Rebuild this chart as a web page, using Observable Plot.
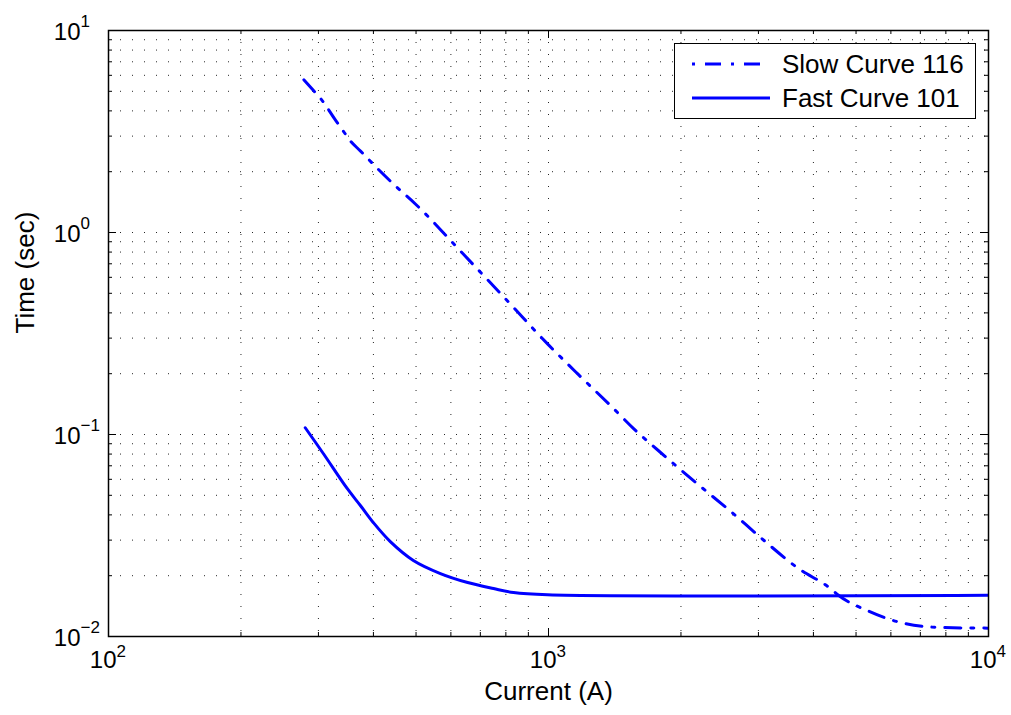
<!DOCTYPE html>
<html><head><meta charset="utf-8">
<script src="https://cdn.jsdelivr.net/npm/d3@7"></script>
<script src="https://cdn.jsdelivr.net/npm/@observablehq/plot@0.6"></script>
<style>body{margin:0;background:#fff}</style>
</head><body><div id="chart"></div>
<script>
// Series data
const slowCurrent = [278, 291, 306, 328, 342, 355, 374, 408, 449, 499, 641, 807, 995, 1164, 1384, 1561, 1845, 2158, 2630, 3034, 3700, 4375, 4560, 5305, 6310, 7780, 10000];
const slowTime    = [5.7, 5.1, 4.5, 3.6, 3.17, 2.83, 2.53, 2.08, 1.70, 1.38, 0.78, 0.458, 0.281, 0.200, 0.139, 0.107, 0.0776, 0.058, 0.0406, 0.0309, 0.0217, 0.01727, 0.0160, 0.01344, 0.01173, 0.01108, 0.0110];
const fastCurrent = [280, 308, 349, 374, 400, 437, 493, 568, 655, 750, 833, 995, 10000];
const fastTime    = [0.108, 0.0803, 0.0539, 0.0444, 0.0366, 0.0295, 0.0238, 0.0205, 0.0185, 0.01727, 0.0165, 0.0161, 0.0160];
const seriesNames = ["Slow Curve 116", "Fast Curve 101"];

// Axis ticks and labels
const xMajor = [100, 1000, 10000];
const xMinor = [200, 300, 400, 500, 600, 700, 800, 900, 2000, 3000, 4000, 5000, 6000, 7000, 8000, 9000];
const xTickBase = ["10", "10", "10"];
const xTickExp = ["2", "3", "4"];
const yMajor = [0.01, 0.1, 1, 10];
const yMinor = [0.02, 0.03, 0.04, 0.05, 0.06, 0.07, 0.08, 0.09, 0.2, 0.3, 0.4, 0.5, 0.6, 0.7, 0.8, 0.9, 2, 3, 4, 5, 6, 7, 8, 9];
const yTickBase = ["10", "10", "10", "10"];
const yTickExp = ["\u22122", "\u22121", "0", "1"];
const xLabel = "Current (A)";
const yLabel = "Time (sec)";

const slowData = slowCurrent.map((c, i) => ({current: c, time: slowTime[i]}));
const fastData = fastCurrent.map((c, i) => ({current: c, time: fastTime[i]}));

const W = 1011, H = 715;
const mL = 108, mR = 23, mT = 30, mB = 79;
const fw = W - mL - mR, fh = H - mT - mB;
const blue = "#0000ff";
const slowDash = "16,10,3,10";
const font = "'Liberation Sans', Arial, Helvetica, sans-serif";
const gridStyle = {stroke: "#000", strokeWidth: 1, strokeDasharray: "1,11", strokeOpacity: 0.85};

const svg = Plot.plot({
  width: W, height: H,
  marginLeft: mL, marginRight: mR, marginTop: mT, marginBottom: mB,
  style: {fontFamily: font, fontSize: "24px", background: "#fff", color: "#000", overflow: "visible"},
  x: {type: "log", domain: [100, 10000], axis: null},
  y: {type: "log", domain: [0.01, 10], axis: null},
  marks: [
    Plot.ruleX([...xMinor, 1000], {x: d => d, ...gridStyle}),
    Plot.ruleY([...yMinor, 0.1, 1], {y: d => d, ...gridStyle}),
    // inward ticks, bottom & top
    Plot.tickX(xMajor, {x: d => d, insetTop: fh - 8, stroke: "#000", strokeWidth: 1}),
    Plot.tickX(xMajor, {x: d => d, insetBottom: fh - 8, stroke: "#000", strokeWidth: 1}),
    Plot.tickX(xMinor, {x: d => d, insetTop: fh - 4, stroke: "#000", strokeWidth: 1}),
    Plot.tickX(xMinor, {x: d => d, insetBottom: fh - 4, stroke: "#000", strokeWidth: 1}),
    // inward ticks, left & right
    Plot.tickY(yMajor, {y: d => d, insetRight: fw - 8, stroke: "#000", strokeWidth: 1}),
    Plot.tickY(yMajor, {y: d => d, insetLeft: fw - 8, stroke: "#000", strokeWidth: 1}),
    Plot.tickY(yMinor, {y: d => d, insetRight: fw - 4, stroke: "#000", strokeWidth: 1}),
    Plot.tickY(yMinor, {y: d => d, insetLeft: fw - 4, stroke: "#000", strokeWidth: 1}),
    // curves
    Plot.line(slowData, {x: "current", y: "time", stroke: blue, strokeWidth: 3, strokeDasharray: slowDash, curve: "monotone-x", clip: true}),
    Plot.line(fastData, {x: "current", y: "time", stroke: blue, strokeWidth: 3, curve: "catmull-rom", clip: true}),
    Plot.frame({stroke: "#000", strokeWidth: 1.5}),
    // x tick labels
    Plot.text(xMajor, {x: d => d, frameAnchor: "bottom", text: (d, i) => xTickBase[i], textAnchor: "end", dx: 8, dy: 31, fontSize: 24, fill: "#000"}),
    Plot.text(xMajor, {x: d => d, frameAnchor: "bottom", text: (d, i) => xTickExp[i], textAnchor: "start", dx: 8, dy: 20, fontSize: 17, fill: "#000"}),
    // y tick labels
    Plot.text(yMajor, {y: d => d, frameAnchor: "left", text: (d, i) => yTickBase[i], textAnchor: "end", dx: -28, dy: 2, fontSize: 24, fill: "#000"}),
    Plot.text(yMajor, {y: d => d, frameAnchor: "left", text: (d, i) => yTickExp[i], textAnchor: "start", dx: -28, dy: -9, fontSize: 17, fill: "#000"}),
    // axis titles
    Plot.text([xLabel], {text: d => d, frameAnchor: "bottom", dy: 63, fontSize: 26, fill: "#000"}),
    Plot.text([yLabel], {text: d => d, frameAnchor: "left", rotate: -90, dx: -83, fontSize: 26, fill: "#000"})
  ]
});

// Legend box inside the plot (top-right)
const g = d3.select(svg).append("g")
  .attr("font-family", font).attr("font-size", 26).attr("text-anchor", "start");
g.append("rect").attr("x", 674.5).attr("y", 43.5).attr("width", 301).attr("height", 75)
  .attr("fill", "#fff").attr("stroke", "#000").attr("stroke-width", 1);
const rows = [{y: 64, dash: slowDash, off: 26}, {y: 98, dash: null, off: 0}];
rows.forEach((r, i) => {
  const ln = g.append("line").attr("x1", 692).attr("x2", 770).attr("y1", r.y).attr("y2", r.y)
    .attr("stroke", blue).attr("stroke-width", 3);
  if (r.dash) ln.attr("stroke-dasharray", r.dash).attr("stroke-dashoffset", r.off);
  g.append("text").attr("x", 782).attr("y", r.y).attr("dy", "0.35em")
    .attr("text-anchor", "start").attr("fill", "#000").text(seriesNames[i]);
});

document.getElementById("chart").appendChild(svg);
</script>
</body></html>
